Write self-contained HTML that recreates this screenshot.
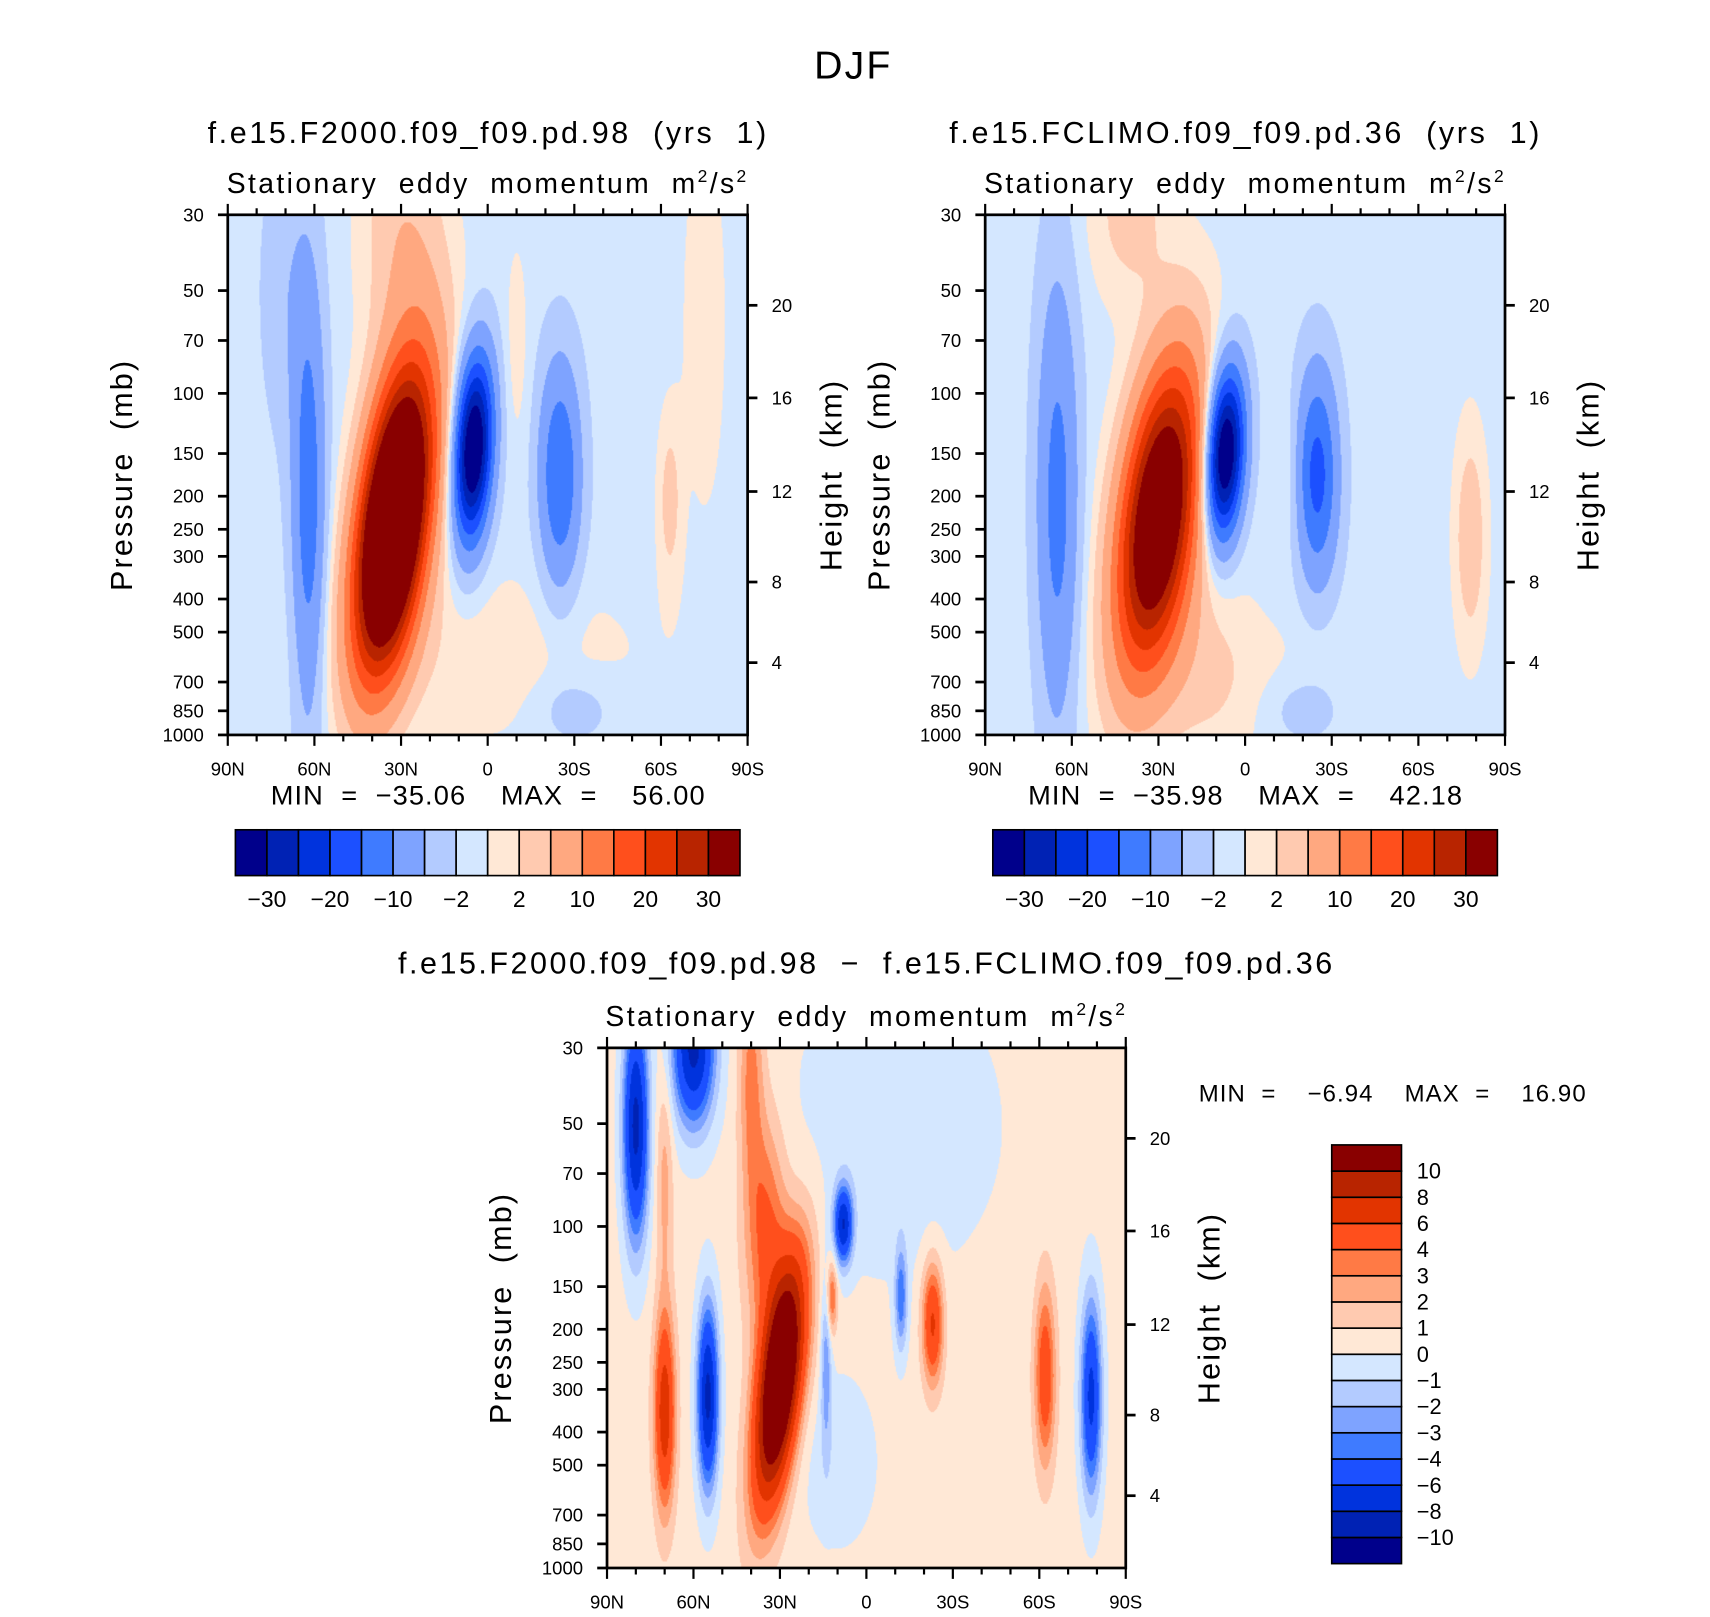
<!DOCTYPE html>
<html><head><meta charset="utf-8">
<style>
html,body{margin:0;padding:0;background:#fff;width:1710px;height:1617px;overflow:hidden}
#wrap{position:absolute;left:0;top:0;width:1569px;height:1483px;transform:scale(1.0898,1.0904);transform-origin:0 0}
canvas{position:absolute}
svg{position:absolute;left:0;top:0}
text{font-family:"Liberation Sans",sans-serif;fill:#000;white-space:pre}
</style></head><body>
<div id="wrap">
<canvas id="c1" style="left:209px;top:197px;width:477px;height:477px" width="477" height="477"></canvas>
<canvas id="c2" style="left:904px;top:197px;width:477px;height:477px" width="477" height="477"></canvas>
<canvas id="c3" style="left:557px;top:961px;width:476px;height:477px" width="476" height="477"></canvas>
<svg id="s" width="1569" height="1483">
<text x="783" y="72" font-size="36" text-anchor="middle" letter-spacing="2">DJF</text>
</svg>
</div>
<script>
// ---- data ----
const colors = ["#00008B","#0022B4","#0033DD","#1C50FF","#3F7BFF","#7EA3FF","#B3CBFF","#D4E7FF","#FFE8D6","#FFCAB0","#FFA880","#FF7A45","#FF4F1C","#E23400","#B82400","#890000"];
const levelsAbs = [-30,-25,-20,-15,-10,-5,-2,0,2,5,10,15,20,25,30];
const levelsDiff = [-10,-8,-6,-4,-3,-2,-1,0,1,2,3,4,6,8,10];
const absTickLabels = ["-30","-20","-10","-2","2","10","20","30"];
const absTickIdx = [0,2,4,6,8,10,12,14];
const presTicks = [30,50,70,100,150,200,250,300,400,500,700,850,1000];
const heightTicks = [20,16,12,8,4];
const heightPos = [0.826,0.648,0.468,0.294,0.139];
const latTicks = ["90N","60N","30N","0","30S","60S","90S"];
// panel 1 blobs
const p1Lat=[33,25,30,5,62,70,-25,-63,-10,-75,-30,0];
const p1V  =[0.40,0.7,1.0,0.55,0.45,0.85,0.5,0.45,0.75,0.8,0.05,0.15];
const p1Amp=[62,5,4,-38,-12,-3,-14,4,2,2,-3,2.2];
const p1Sx =[8,10,10,4.5,4,6,5,3,3,6,10,40];
const p1Sv =[0.19,0.2,0.15,0.12,0.3,0.2,0.15,0.12,0.15,0.3,0.05,0.12];
const p1Tilt=[-20,0,0,-8,0,0,0,0,0,0,0,0];
const p1Bg=-1;
// panel 2 blobs
const p2Lat=[30,40,7,65,-25,-78,-20,-15,15,0];
const p2V  =[0.42,1.0,0.54,0.45,0.5,0.38,0.05,0.5,0.15,0.1];
const p2Amp=[45,4,-38,-11,-16,5,-3,2,2.5,1.5];
const p2Sx =[9,10,4.5,5,5,4,10,3,12,30];
const p2Sv =[0.2,0.12,0.11,0.3,0.14,0.15,0.05,0.1,0.15,0.1];
const p2Tilt=[-20,0,-8,0,0,0,0,0,0,0];
const p2Bg=-1;
// diff blobs
const p3Lat=[80,60,70,55,70,30,35,40,8,12,14,-12,-23,-62,-78,-10,10];
const p3V  =[0.85,1.0,0.75,0.33,0.3,0.36,0.65,0.95,0.66,0.52,0.4,0.52,0.47,0.37,0.33,0.85,0.2];
const p3Amp=[-9,-9,2,-9,7,16,4,3,-8,4,-3,-4,6,5,-7,-1.2,-1.0];
const p3Sx =[3,5,2,2.5,2.5,5,5,3,2.2,1.3,1.3,1.5,2.5,2.5,2.5,25,10];
const p3Sv =[0.15,0.1,0.15,0.12,0.13,0.16,0.15,0.15,0.05,0.05,0.12,0.07,0.08,0.12,0.13,0.2,0.12];
const p3Tilt=[0,0,0,0,0,-20,0,0,0,0,0,0,0,0,0,0,0];
const p3Bg=0.4;

// ---- helpers ----
const NS="http://www.w3.org/2000/svg";
const svg=document.getElementById('s');
const L=Math.log(1000/30);
function vOf(p){return Math.log(1000/p)/L;}
function el(tag,attrs,parent){const e=document.createElementNS(NS,tag);for(const k in attrs)e.setAttribute(k,attrs[k]);(parent||svg).appendChild(e);return e;}
function txt(x,y,s,size,anchor,name,extra){const t=el('text',Object.assign({x:x,y:y,'font-size':size,'text-anchor':anchor||'middle'},extra||{}));t.textContent=s;


return t;}

function drawField(id,lat,V,amp,sx,sv,tilt,bg,levels){
  const c=document.getElementById(id),ctx=c.getContext('2d');
  const W=c.width,H=c.height,img=ctx.createImageData(W,H);
  const rgb=colors.map(h=>[parseInt(h.slice(1,3),16),parseInt(h.slice(3,5),16),parseInt(h.slice(5,7),16)]);
  for(let j=0;j<H;j++){const v=1-(j+0.5)/H;
    for(let i=0;i<W;i++){const la=90-180*(i+0.5)/W;let f=bg;
      for(let k=0;k<lat.length;k++){const dv=(v-V[k])/sv[k];const c0=lat[k]+tilt[k]*(v-V[k]);const dx=(la-c0)/sx[k];f+=amp[k]*Math.exp(-0.5*(dx*dx+dv*dv));}
      let idx=0;while(idx<levels.length&&f>=levels[idx])idx++;
      const o=(j*W+i)*4,cc=rgb[idx];img.data[o]=cc[0];img.data[o+1]=cc[1];img.data[o+2]=cc[2];img.data[o+3]=255;}}
  ctx.putImageData(img,0,0);
}

function axes(x0,y0,w,h,pfx){
  const g=el('g',{});
  
  
  el('rect',{x:x0,y:y0,width:w,height:h,fill:'none',stroke:'#000','stroke-width':2.5},g);
  for(let d=0;d<=18;d++){const x=x0+w*d/18;const major=d%3==0;const len=major?10:6;
    el('line',{x1:x,x2:x,y1:y0,y2:y0-len,stroke:'#000','stroke-width':2},g);
    el('line',{x1:x,x2:x,y1:y0+h,y2:y0+h+len,stroke:'#000','stroke-width':2},g);}
  latTicks.forEach((s,i)=>txt(x0+w*i/6,y0+h+37,s,17,'middle',pfx+'-x-tick-label'));
  presTicks.forEach(p=>{const y=y0+h-vOf(p)*h;el('line',{x1:x0,x2:x0-9,y1:y,y2:y,stroke:'#000','stroke-width':2.5},g);
    txt(x0-22,y+6,String(p),17,'end',pfx+'-y-tick-label');});
  heightTicks.forEach((k,i)=>{const y=y0+h-heightPos[i]*h;el('line',{x1:x0+w,x2:x0+w+9,y1:y,y2:y,stroke:'#000','stroke-width':2.5},g);
    txt(x0+w+22,y+6,String(k),17,'start',pfx+'-height-tick-label');});
  txt(0,0,'Pressure  (mb)',28,'middle',pfx+'-y-axis-title',{transform:`translate(${x0-88},${y0+h*0.5}) rotate(-90)`,'letter-spacing':'2'});
  txt(0,0,'Height  (km)',28,'middle',pfx+'-height-axis-title',{transform:`translate(${x0+w+86},${y0+h*0.5}) rotate(-90)`,'letter-spacing':'2'});
  const t=txt(x0+w/2,y0-20,'',26,'middle',pfx+'-subtitle',{'letter-spacing':'2.2'});
  t.innerHTML='Stationary  eddy  momentum  m<tspan dy="-10" font-size="16">2</tspan><tspan dy="10">/s</tspan><tspan dy="-10" font-size="16">2</tspan>';
}

drawField('c1',p1Lat,p1V,p1Amp,p1Sx,p1Sv,p1Tilt,p1Bg,levelsAbs);
drawField('c2',p2Lat,p2V,p2Amp,p2Sx,p2Sv,p2Tilt,p2Bg,levelsAbs);
drawField('c3',p3Lat,p3V,p3Amp,p3Sx,p3Sv,p3Tilt,p3Bg,levelsDiff);

axes(209,197,477,477,'panel1');
axes(904,197,477,477,'panel2');
axes(557,961,476,477,'diff');

txt(448,131,'f.e15.F2000.f09_f09.pd.98  (yrs  1)',28,'middle','panel1-title',{'letter-spacing':'2.4'});
txt(1143,131,'f.e15.FCLIMO.f09_f09.pd.36  (yrs  1)',28,'middle','panel2-title',{'letter-spacing':'2.4'});
txt(795,893,'f.e15.F2000.f09_f09.pd.98  \u2212  f.e15.FCLIMO.f09_f09.pd.36',28,'middle','diff-title',{'letter-spacing':'2.3'});
txt(448,738,'MIN  =  \u221235.06    MAX  =    56.00',25,'middle','panel1-minmax',{'letter-spacing':'1'});
txt(1143,738,'MIN  =  \u221235.98    MAX  =    42.18',25,'middle','panel2-minmax',{'letter-spacing':'1'});
txt(1278,1010,'MIN  =    \u22126.94    MAX  =    16.90',22,'middle','diff-minmax',{'letter-spacing':'1'});

function hbar(x0,pfx){
  const w=463/16;
  colors.forEach((c,i)=>{const r=el('rect',{x:x0+i*w,y:761,width:w,height:42,fill:c,stroke:'#000','stroke-width':1.5});
    
    });
  absTickIdx.forEach((k,i)=>txt(x0+(k+1)*w,832,absTickLabels[i].replace('-','\u2212'),21,'middle',pfx+'-colorbar-label'));
}
hbar(216,'panel1');hbar(911,'panel2');

const vh=384/16;
for(let i=0;i<16;i++){const r=el('rect',{x:1222,y:1050+(15-i)*vh,width:64,height:vh,fill:colors[i],stroke:'#000','stroke-width':1.5});
  
  }
levelsDiff.forEach((lv,i)=>txt(1300,1050+(15-i)*vh+7,String(lv).replace('-','\u2212'),20,'start','diff-colorbar-label'));
</script>
</body></html>
